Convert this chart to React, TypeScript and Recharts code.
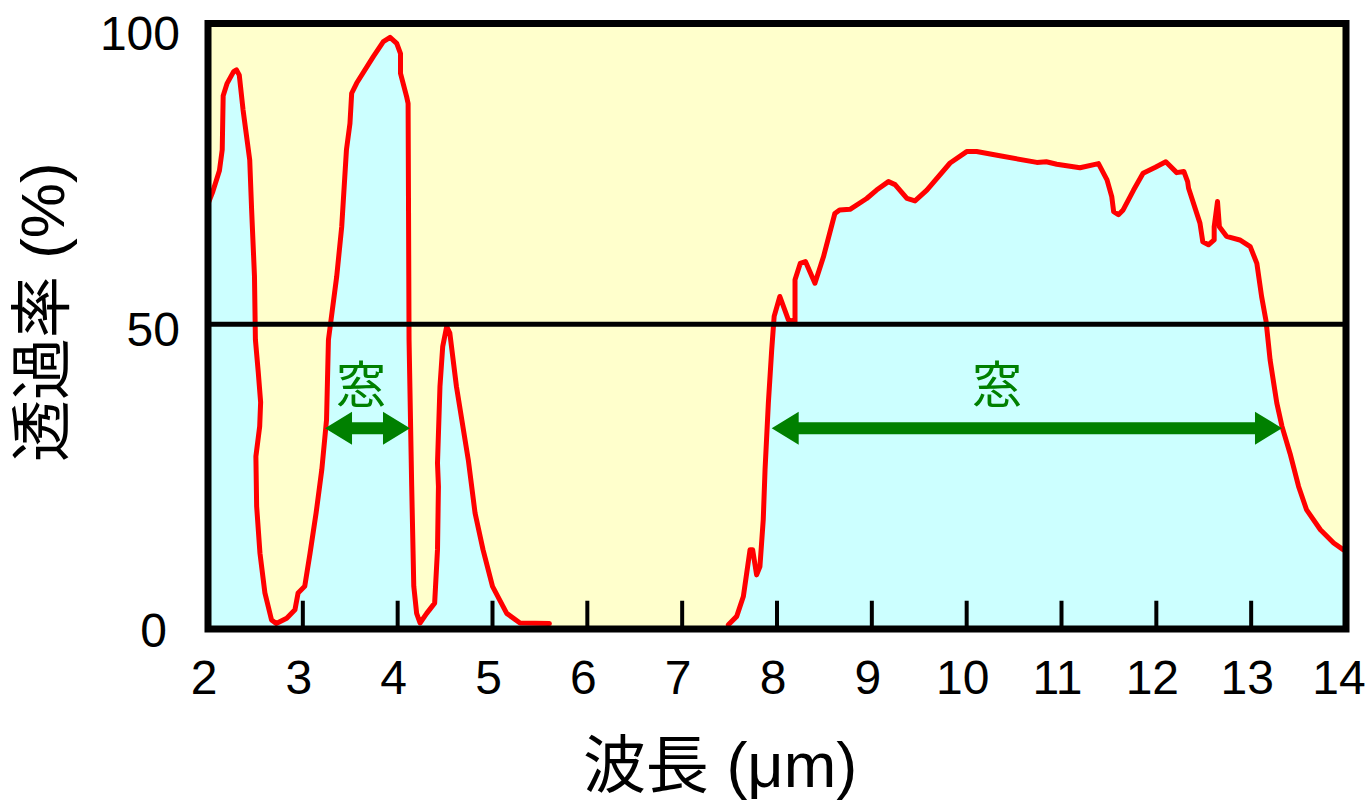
import React from "react";
import {
  ComposedChart,
  Area,
  XAxis,
  YAxis,
  CartesianGrid,
  ReferenceLine,
  ReferenceArea,
  ReferenceDot,
} from "recharts";

// wavelength (µm) and transmittance (%)
const wavelength = [
  2.0, 2.05, 2.12, 2.15, 2.16, 2.2, 2.27, 2.3, 2.33, 2.37, 2.44, 2.46, 2.49, 2.5, 2.53,
  2.555, 2.545, 2.505, 2.513, 2.548, 2.6, 2.67, 2.72, 2.83, 2.917, 2.95, 3.02, 3.076,
  3.14, 3.2, 3.25, 3.27, 3.357, 3.41, 3.46, 3.497, 3.515, 3.568, 3.743, 3.849, 3.92,
  3.99, 4.03, 4.03, 4.095, 4.11, 4.12, 4.148, 4.17, 4.2, 4.236, 4.306, 4.39, 4.42, 4.43,
  4.42, 4.446, 4.475, 4.517, 4.55, 4.62, 4.745, 4.816, 4.9, 5.0, 5.15, 5.29, 5.6,
  6.5,
  7.487, 7.575, 7.645, 7.716, 7.743, 7.785, 7.82, 7.855, 7.874, 7.909, 7.944, 7.97,
  8.03, 8.12, 8.19, 8.19, 8.245, 8.3, 8.4, 8.49, 8.61, 8.66, 8.77, 8.946, 9.05, 9.175,
  9.245, 9.37, 9.455, 9.58, 9.825, 10.0, 10.105, 10.35, 10.74, 10.84, 10.95, 11.195,
  11.39, 11.48, 11.53, 11.55, 11.6, 11.65, 11.76, 11.86, 11.99, 12.1, 12.215, 12.29,
  12.33, 12.34, 12.46, 12.49, 12.55, 12.61, 12.61, 12.645, 12.665, 12.74, 12.88, 12.99,
  13.06, 13.11, 13.157, 13.2, 13.27, 13.325, 13.41, 13.5, 13.585, 13.73, 13.87, 13.97,
  14.0, 14.0,
];
const transmittance: (number | null)[] = [
  70, 72, 75.5, 79, 88, 90, 92, 92.3, 91.4, 85.6, 77.3, 69, 58, 47.4, 42,
  37, 33, 28, 19.7, 11.9, 5.3, 0.8, 0.2, 1.1, 2.5, 5.3, 6.4, 11.9,
  18.6, 25.8, 34.1, 47.4, 57.9, 66.2, 79, 83.4, 88.4, 90.1, 94.5, 97, 97.7,
  96.7, 95, 91.7, 87.8, 86.7, 47.4, 23, 6.4, 1.9, 0.3, 1.9, 3.6, 12.5, 23,
  26.9, 39.6, 46.3, 49.6, 48.5, 39.6, 27.4, 18.6, 12.5, 6.4, 1.9, 0.3, 0.2,
  null,
  0, 1.4, 4.7, 12.5, 12.5, 8.3, 9.7, 17.5, 25.8, 36.9, 45.7, 51.3,
  54.6, 50.7, 50.4, 57.4, 60.1, 60.4, 56.8, 61.2, 68.4, 69, 69.1, 70.9, 72.3, 73.7,
  73.2, 70.9, 70.5, 72.3, 76.8, 78.7, 78.7, 78, 76.9, 77, 76.6, 76,
  76.7, 74, 71.2, 68.7, 68.2, 69, 72.3, 75.1, 76.1, 77, 75.2, 75.4,
  73.7, 72.6, 66.8, 63.7, 63.2, 64, 66.2, 70.4, 66.2, 64.6, 64, 62.9,
  60.1, 54.6, 50.5, 44, 36.9, 33, 28.5, 23, 19.1, 15.8, 13.6, 12.5,
  12.2, 0,
];

const xTicks = [2, 3, 4, 5, 6, 7, 8, 9, 10, 11, 12, 13, 14];
const yTicks = [0, 50, 100];
const innerTicks = [3, 4, 5, 6, 7, 8, 9, 10, 11, 12, 13];

// atmospheric windows: wavelength range, arrow height (%), label position
const windowFrom = [3.234, 7.944];
const windowTo = [4.13, 13.325];
const windowY = [32.7, 32.7];
const windowLabelX = [3.613, 10.32];
const windowLabelY = [40.5, 40.5];
const windowLabel = "窓";

const data = wavelength.map((wl, i) => ({ wl, t: transmittance[i] }));

const FONT = "'Liberation Sans', Arial, 'Noto Sans CJK JP', sans-serif";
const Y_MIN = -0.7;

const XTick = (props: any) => {
  const { x, y, payload } = props;
  const v = payload.value;
  return (
    <text
      x={x}
      y={y}
      dx={v === 14 ? -7 : -4}
      dy={65}
      textAnchor="middle"
      fontSize={48}
      fontFamily={FONT}
      fill="#000"
    >
      {v}
    </text>
  );
};

const YTick = (props: any) => {
  const { x, y, payload } = props;
  const v = payload.value;
  return (
    <text
      x={x}
      y={y}
      dx={v === 0 ? -41 : -28}
      dy={v === 100 ? 26 : 22}
      textAnchor="end"
      fontSize={48}
      fontFamily={FONT}
      fill="#000"
    >
      {v}
    </text>
  );
};

const Arrow = (props: any) => {
  const { x1, y1, x2 } = props;
  const head = 27;
  const half = 16.5;
  const shaft = 6;
  const y = y1;
  const pts = [
    [x1, y],
    [x1 + head, y - half],
    [x1 + head, y - shaft],
    [x2 - head, y - shaft],
    [x2 - head, y - half],
    [x2, y],
    [x2 - head, y + half],
    [x2 - head, y + shaft],
    [x1 + head, y + shaft],
    [x1 + head, y + half],
  ];
  return <polygon points={pts.map((p) => p.join(",")).join(" ")} fill="#008000" />;
};

const WindowText = (props: any) => {
  const { cx, cy } = props;
  return (
    <text
      x={cx}
      y={cy}
      textAnchor="middle"
      dominantBaseline="central"
      fontSize={50}
      fontFamily="'Noto Sans CJK JP', sans-serif"
      fill="#008000"
    >
      {windowLabel}
    </text>
  );
};

export default function App() {
  return (
    <div style={{ position: "absolute", left: 0, top: 0, background: "#fff" }}>
      <ComposedChart
        width={1371}
        height={801}
        data={data}
        margin={{ top: 23.5, right: 25, bottom: 0, left: 8 }}
      >
        <CartesianGrid fill="#FFFFCC" horizontal={false} vertical={false} />
        <XAxis
          dataKey="wl"
          type="number"
          domain={[2, 14]}
          ticks={xTicks}
          interval={0}
          height={172}
          axisLine={false}
          tickLine={false}
          tickSize={0}
          tickMargin={0}
          tick={<XTick />}
          allowDataOverflow
          label={{
            content: (p: any) => {
              const vb = p.viewBox;
              return (
                <text
                  x={vb.x + vb.width / 2 - 57}
                  y={vb.y + 158}
                  textAnchor="middle"
                  fontSize={63}
                  fontFamily={FONT}
                  fill="#000"
                >
                  波長 (μm)
                </text>
              );
            },
          }}
        />
        <YAxis
          type="number"
          domain={[Y_MIN, 100]}
          ticks={yTicks}
          interval={0}
          width={200}
          axisLine={false}
          tickLine={false}
          tickSize={0}
          tickMargin={0}
          tick={<YTick />}
          allowDataOverflow
          label={{
            content: (p: any) => {
              const vb = p.viewBox;
              const cx = vb.x + 34;
              const cy = vb.y + vb.height / 2 - 14;
              return (
                <text
                  x={cx}
                  y={cy}
                  transform={`rotate(-90 ${cx} ${cy})`}
                  textAnchor="middle"
                  dominantBaseline="central"
                  fontSize={62}
                  fontFamily={FONT}
                  fill="#000"
                >
                  透過率 (%)
                </text>
              );
            },
          }}
        />
        <Area
          type="linear"
          dataKey="t"
          baseValue="dataMin"
          stroke="#FF0000"
          strokeWidth={5}
          strokeLinejoin="round"
          strokeLinecap="round"
          fill="#CCFFFF"
          fillOpacity={1}
          dot={false}
          activeDot={false}
          connectNulls={false}
          isAnimationActive={false}
        />
        <ReferenceLine y={50} stroke="#000" strokeWidth={5} />
        {innerTicks.map((t) => (
          <ReferenceLine
            key={t}
            segment={[
              { x: t, y: Y_MIN },
              { x: t, y: 4 },
            ]}
            stroke="#000"
            strokeWidth={4}
          />
        ))}
        {windowFrom.map((from, i) => (
          <ReferenceLine
            key={"w" + i}
            segment={[
              { x: from, y: windowY[i] },
              { x: windowTo[i], y: windowY[i] },
            ]}
            shape={Arrow}
            ifOverflow="visible"
          />
        ))}
        {windowLabelX.map((x, i) => (
          <ReferenceDot
            key={"l" + i}
            x={x}
            y={windowLabelY[i]}
            r={0}
            shape={WindowText}
            ifOverflow="visible"
          />
        ))}
        <ReferenceArea
          x1={2}
          x2={14}
          y1={Y_MIN}
          y2={100}
          fill="none"
          stroke="#000"
          strokeWidth={7}
          ifOverflow="visible"
        />
      </ComposedChart>
    </div>
  );
}
